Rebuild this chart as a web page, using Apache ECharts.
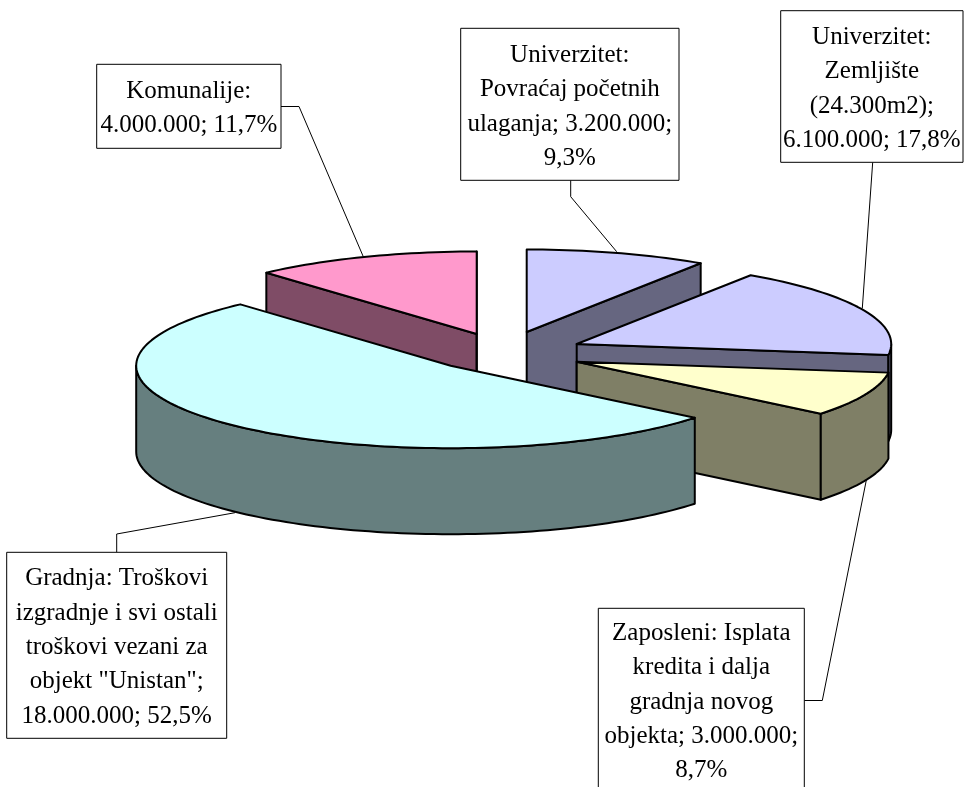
<!DOCTYPE html>
<html>
<head>
<meta charset="utf-8">
<style>html,body{margin:0;padding:0;background:#fff}#c{width:964px;height:787px}</style>
<script src="https://cdn.jsdelivr.net/npm/echarts@6/dist/echarts.min.js"></script>
</head>
<body>
<div id="c"></div>
<script>
// Data, in clockwise order starting with the slice that ends at 12 o'clock
const categories = ['Komunalije', 'Univerzitet: Povraćaj početnih ulaganja', 'Univerzitet: Zemljište (24.300m2)', 'Zaposleni: Isplata kredita i dalja gradnja novog objekta', 'Gradnja: Troškovi izgradnje i svi ostali troškovi vezani za objekt "Unistan"'];
const values = [4000000, 3200000, 6100000, 3000000, 18000000];
const labelTexts = [
  'Komunalije:\n4.000.000; 11,7%',
  'Univerzitet:\nPovraćaj početnih\nulaganja; 3.200.000;\n9,3%',
  'Univerzitet:\nZemljište\n(24.300m2);\n6.100.000; 17,8%',
  'Zaposleni: Isplata\nkredita i dalja\ngradnja novog\nobjekta; 3.000.000;\n8,7%',
  'Gradnja: Troškovi\nizgradnje i svi ostali\ntroškovi vezani za\nobjekt "Unistan";\n18.000.000; 52,5%'
];

// Styling and layout
const topColors = ['#FF99CC', '#CCCCFF', '#CCCCFF', '#FFFFCC', '#CCFFFF'];
const wallColors = ['#7F4C66', '#666680', '#666680', '#7F7F66', '#667F7F'];
const apexes = [[476.7, 334], [526.7, 332], [576.7, 344], [576.7, 361.7], [450.7, 365.7]];
const RX = 314.5, RY = 82.5, DEPTH = 86;
const boxes = [[96.7, 64.3, 184.3, 84], [460.7, 28.3, 218.3, 152], [780.7, 10.7, 182.3, 151.6], [598.3, 608.3, 206, 200], [6.7, 552.3, 220, 186]];
const textCenters = [[188.8, 108.3], [569.8, 106.8], [871.8, 89], [701.3, 702], [116.7, 647.5]];
const leaders = [
  [[281, 106.5], [299, 106.5], [363.3, 256.7]],
  [[570.7, 180.3], [570.7, 196.7], [616.7, 251.7]],
  [[872.7, 162.3], [862.3, 308.3]],
  [[804.3, 700.5], [822.3, 700.5], [866.7, 478.3]],
  [[116.7, 552.3], [116.7, 534], [235, 512.7]]
];

const total = values.reduce((a, b) => a + b, 0);
const startAngle = -values[0] / total * 360;
const rad = d => d * Math.PI / 180;
const ptOn = (apex, deg) => [apex[0] + RX * Math.sin(rad(deg)), apex[1] - RY * Math.cos(rad(deg))];
const down = p => [p[0], p[1] + DEPTH];
const arcPts = (apex, a, b) => {
  const n = Math.max(2, Math.ceil(Math.abs(b - a) / 1.5));
  const out = [];
  for (let i = 0; i <= n; i++) out.push(ptOn(apex, a + (b - a) * i / n));
  return out;
};
const edge = {stroke: '#000', lineWidth: 2, lineJoin: 'round'};

function renderSlice(params, api) {
  const i = params.dataIndex;
  let before = 0;
  for (let k = 0; k < i; k++) before += values[k];
  const a0 = startAngle + before / total * 360;
  const a1 = a0 + api.value(0) / total * 360;
  const apex = apexes[i];
  const children = [];
  const wall = pts => children.push({type: 'polygon', shape: {points: pts}, style: Object.assign({fill: wallColors[i]}, edge)});
  // radial walls that face the viewer
  if (Math.sin(rad(a0)) < -1e-6) { const p = ptOn(apex, a0); wall([apex, p, down(p), down(apex)]); }
  if (Math.sin(rad(a1)) > 1e-6 || Math.abs(a1 - 360) < 1e-6 || Math.abs(a1) < 1e-6) { const p = ptOn(apex, a1); wall([apex, p, down(p), down(apex)]); }
  // outer rim, only its front half
  const r0 = Math.max(a0, 90), r1 = Math.min(a1, 270);
  if (r1 > r0) {
    const rim = arcPts(apex, r0, r1);
    wall(rim.concat(rim.map(down).reverse()));
  }
  // top face
  children.push({type: 'polygon', shape: {points: [apex].concat(arcPts(apex, a0, a1))}, style: Object.assign({fill: topColors[i]}, edge)});
  return {type: 'group', children};
}

const graphics = [];
leaders.forEach(pts => graphics.push({type: 'polyline', z: 1, silent: true, shape: {points: pts}, style: {stroke: '#000', lineWidth: 1, fill: null}}));
boxes.forEach((b, i) => {
  graphics.push({type: 'rect', z: 5, silent: true, shape: {x: b[0], y: b[1], width: b[2], height: b[3]}, style: {fill: '#fff', stroke: '#000', lineWidth: 1}});
  graphics.push({type: 'text', z: 6, silent: true, x: textCenters[i][0], y: textCenters[i][1], style: {
    text: labelTexts[i], fill: '#000', font: '25px "Liberation Serif", serif', lineHeight: 34.4,
    textAlign: 'center', textVerticalAlign: 'middle'
  }});
});

const chart = echarts.init(document.getElementById('c'), null, {width: 964, height: 787});
chart.setOption({
  animation: false,
  backgroundColor: '#fff',
  graphic: {elements: graphics},
  series: [{
    type: 'custom',
    coordinateSystem: 'none',
    z: 3,
    silent: true,
    renderItem: renderSlice,
    data: values.map((v, i) => ({name: categories[i], value: [v]})),
    encode: {value: 0}
  }]
});
</script>
</body>
</html>
